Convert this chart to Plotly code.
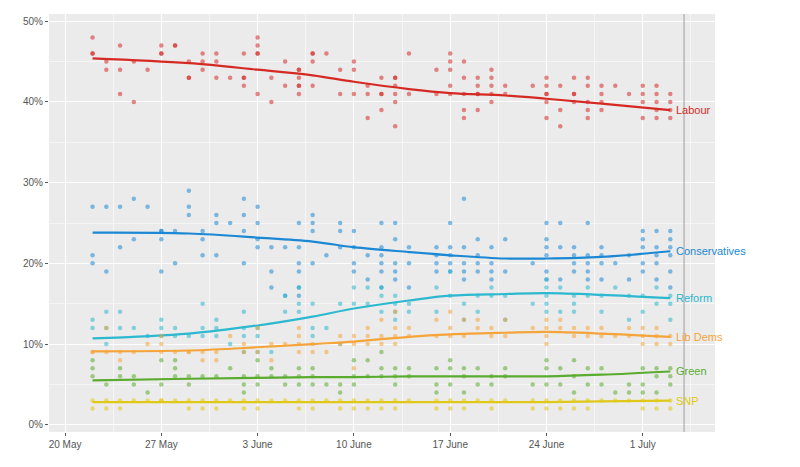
import plotly.graph_objects as go
from datetime import date, timedelta

# poll values per day, day offset from 22 May 2024
start = date(2024, 5, 22)

labour_polls = [
    [48, 46, 46], [45, 44], [47, 44, 41], [45, 40], [44], [47, 46, 46], [47, 47], [45, 43, 43],
    [46, 45, 44], [46, 45, 43], [43], [46, 43, 43, 42], [48, 47, 46, 46, 41], [43, 40], [45, 42],
    [44, 44, 43, 42, 42, 41], [46, 46, 45, 42], [46], [44, 41], [45, 44, 41], [42, 41, 38],
    [43, 41, 41, 39], [43, 43, 42, 41, 40, 37], [46, 41], [], [44, 41], [46, 45, 44, 42, 41],
    [45, 43, 41, 39, 38], [43, 42, 41, 41, 39], [44, 43, 42, 41, 40], [42, 41], [], [42],
    [43, 42, 41, 41, 40, 38], [42, 39, 37], [43, 41, 41, 40], [43, 42, 40, 39, 38], [42, 41, 40, 39],
    [42], [41], [42, 41, 40, 38], [42, 41, 40, 39, 38], [41, 40, 39, 38],
]
con_polls = [
    [27, 21, 20], [27, 19], [27, 22], [28, 23], [27], [24, 24, 23, 19], [24, 20], [29, 27, 26],
    [24, 23, 21], [26, 25, 21], [25], [28, 26, 24, 20], [27, 25, 23, 22], [22, 19, 17], [22, 16],
    [25, 22, 20, 19, 17, 16], [26, 25, 24, 20], [21], [25, 24, 22], [24, 22, 20, 19], [21, 18],
    [25, 22, 21, 20, 19, 17], [25, 23, 20, 19, 18], [22, 20, 17], [], [22, 21, 20, 19],
    [25, 22, 21, 20, 19], [28, 22, 20, 19, 18], [23, 21, 20, 19], [22, 20, 19, 18], [23, 19], [], [20],
    [25, 23, 22, 21, 19, 18], [25, 22, 18], [22, 21, 20, 19], [25, 21, 20, 19, 18], [22, 21, 20, 18],
    [20], [21, 18], [24, 23, 22, 20, 19], [24, 22, 21, 20, 18], [24, 23, 22, 21, 19, 17],
]
reform_polls = [
    [13, 12], [14, 12, 10], [14, 12], [12], [11], [13, 12, 11], [12, 11], [11], [15, 12, 11],
    [13, 12, 11], [10], [14, 12, 11, 9], [12, 11, 9], [9], [16, 14], [17, 15, 14], [15, 12, 11], [12],
    [15, 10], [17, 15], [17, 15], [17, 16, 14], [16, 15, 14, 13], [15, 14], [], [17, 14], [19, 16],
    [15, 13], [16, 14], [17, 16], [16, 13], [], [15], [18, 17, 16, 15, 14], [17, 14], [16, 15, 14],
    [17, 16], [16, 14], [17], [16, 13], [16, 14], [17, 15], [16, 15, 13],
]
libdem_polls = [
    [9, 9], [12, 9], [9, 8], [9], [10], [11, 10, 9], [9], [9, 9], [9, 8], [9, 8], [11], [10, 9],
    [12, 9], [10, 8], [10], [12, 11, 10, 9], [10, 9], [9], [11, 10], [11, 10, 7], [12, 11, 10],
    [13, 11, 10], [14, 12, 11, 10], [12, 11], [], [13, 11], [14, 12, 11], [13, 11], [13, 12],
    [12, 11], [13, 11], [], [12], [13, 12, 11, 10], [13, 12], [12, 11], [12, 11], [12, 11], [11],
    [12, 11], [12, 11, 10], [12, 11, 10], [11, 10],
]
green_polls = [
    [8, 7, 6], [5], [7, 6], [6, 5], [4], [8, 5], [8, 7, 6], [6, 5], [6], [6], [7], [6, 5, 4],
    [8, 6, 5], [7, 6], [6, 5], [7, 6, 5], [7, 6, 5], [5], [5, 4], [8, 6, 5], [8, 6], [9, 7, 6],
    [7, 6, 5], [7, 6], [], [7, 5, 4], [8, 7, 5], [7, 6, 4], [7, 5], [6, 5], [7, 6], [], [5],
    [8, 7, 5], [7, 5], [8, 6, 4], [7, 5], [7, 5], [4], [5, 4], [7, 5, 4], [7, 6, 4], [7, 6, 5],
]
snp_polls = [
    [3, 2], [3, 2], [3, 2], [3], [3], [3, 3], [3], [3, 2], [3, 2], [3, 2], [3], [3, 2], [3, 2],
    [3], [3], [3, 2], [3, 2], [3], [3, 2], [3, 2], [3, 2], [3, 2], [3, 2], [3], [], [3, 2], [3, 2],
    [3, 2], [3], [3, 2], [3], [], [3, 2], [3, 2], [3, 2], [3, 2], [3, 2], [3], [3], [3], [3, 2],
    [3, 2], [3, 2],
]

# smoothed trend
trend_dates = ["2024-05-22", "2024-05-29", "2024-06-03", "2024-06-07", "2024-06-10", "2024-06-14",
               "2024-06-17", "2024-06-21", "2024-06-24", "2024-06-28", "2024-07-03"]
labour_trend = [45.4, 44.8, 44.0, 43.3, 42.5, 41.6, 41.1, 40.8, 40.4, 39.8, 39.0]
con_trend = [23.8, 23.7, 23.2, 22.7, 22.0, 21.4, 21.0, 20.6, 20.6, 20.8, 21.5]
reform_trend = [10.7, 11.3, 12.3, 13.4, 14.4, 15.4, 16.0, 16.2, 16.3, 16.1, 15.7]
libdem_trend = [9.1, 9.2, 9.6, 10.0, 10.3, 10.9, 11.2, 11.4, 11.5, 11.3, 10.9]
green_trend = [5.5, 5.7, 5.8, 5.9, 5.9, 6.0, 6.0, 6.0, 6.0, 6.2, 6.6]
snp_trend = [2.8, 2.8, 2.8, 2.8, 2.8, 2.8, 2.8, 2.8, 2.8, 2.9, 3.0]

parties = [
    ("Labour", labour_polls, labour_trend, "#d52a24"),
    ("Conservatives", con_polls, con_trend, "#1c88d4"),
    ("Reform", reform_polls, reform_trend, "#2cb8cf"),
    ("Lib Dems", libdem_polls, libdem_trend, "#f5a43a"),
    ("Green", green_polls, green_trend, "#5aab2e"),
    ("SNP", snp_polls, snp_trend, "#e0c818"),
]

fig = go.Figure()
for name, polls, trend, color in parties:
    xs, ys = [], []
    for i, vals in enumerate(polls):
        d = (start + timedelta(days=i)).isoformat()
        for v in vals:
            xs.append(d)
            ys.append(v)
    fig.add_trace(go.Scatter(x=xs, y=ys, mode="markers", marker=dict(color=color, size=4.5, opacity=0.55),
                             showlegend=False, hoverinfo="skip"))
    fig.add_trace(go.Scatter(x=trend_dates, y=trend, mode="lines", line=dict(color=color, width=2.2, shape="spline"),
                             showlegend=False))
    fig.add_annotation(x=trend_dates[-1], y=trend[-1], text=name, showarrow=False, xanchor="left",
                       xshift=4, font=dict(color=color, size=11))

fig.add_vline(x="2024-07-04", line=dict(color="#aaaaaa", width=1.2))

week = 7 * 24 * 3600 * 1000
fig.update_layout(
    width=800, height=467,
    margin=dict(l=41, r=93, t=6, b=43),
    plot_bgcolor="#ebebeb", paper_bgcolor="white",
    font=dict(family="Liberation Sans, Arial", size=10, color="#555555"),
)
fig.update_xaxes(range=["2024-05-18 20:00", "2024-07-06 06:00"], tick0="2024-05-20", dtick=week,
                 tickformat="%-d %B", gridcolor="white", gridwidth=1.2, ticks="outside", ticklen=3,
                 tickcolor="#555555", zeroline=False,
                 minor=dict(dtick=week / 2, tick0="2024-05-16 12:00", showgrid=True, gridcolor="#f6f6f6", gridwidth=0.6))
fig.update_yaxes(range=[-0.9, 50.9], dtick=10, ticksuffix="%", gridcolor="white", gridwidth=1.2,
                 ticks="outside", ticklen=3, tickcolor="#555555", zeroline=False,
                 minor=dict(dtick=5, showgrid=True, gridcolor="#f6f6f6", gridwidth=0.6))

fig.write_html("out.html")
